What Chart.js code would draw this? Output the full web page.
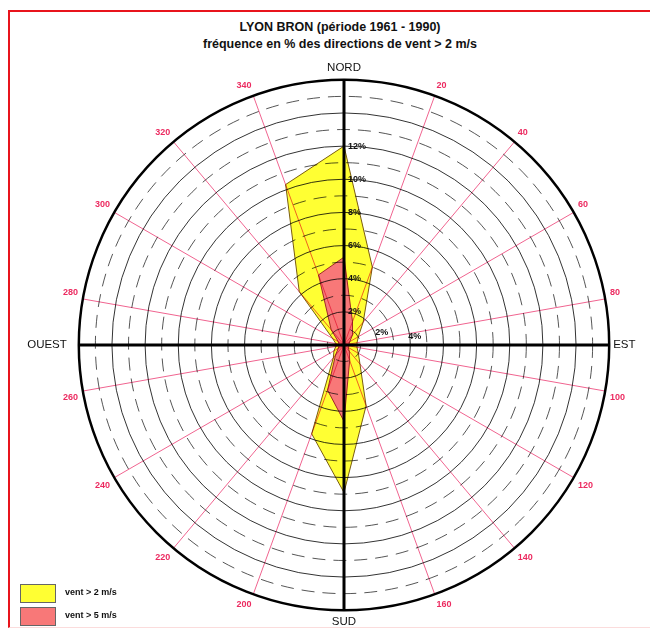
<!DOCTYPE html>
<html>
<head>
<meta charset="utf-8">
<script src="https://cdn.jsdelivr.net/npm/chart.js@4/dist/chart.umd.min.js"></script>
<style>
body{margin:0;background:#fff;width:650px;height:630px;position:relative;overflow:hidden;font-family:"Liberation Sans",Arial,sans-serif;}
#frame{position:absolute;left:8px;top:10px;width:660px;height:615px;border-left:2px solid #e8141c;border-top:2px solid #e8141c;border-bottom:1px solid #fbdcdc;}
#title{position:absolute;left:8px;width:664px;top:19px;text-align:center;font-weight:bold;font-size:12.5px;line-height:17px;color:#111;}
#chart{position:absolute;left:0;top:0;}
.leg{position:absolute;left:20px;width:34px;height:17px;border:1px solid #666;}
.legtxt{position:absolute;left:65px;font-weight:bold;font-size:9px;color:#111;}
</style>
</head>
<body>
<div id="frame"></div>
<div id="title">LYON BRON (période 1961 - 1990)<br>fréquence en % des directions de vent &gt; 2 m/s</div>
<canvas id="chart" width="650" height="630"></canvas>
<div class="leg" style="top:584px;background:#ffff33;"></div>
<div class="legtxt" style="top:587px;">vent &gt; 2 m/s</div>
<div class="leg" style="top:607px;background:#f87878;"></div>
<div class="legtxt" style="top:610px;">vent &gt; 5 m/s</div>
<script>
'use strict';
// ---------- Data ------------- //
let directions = [0, 20, 40, 60, 80, 100, 120, 140, 160, 180, 200, 220, 240, 260, 280, 300, 320, 340];
let vent2 = [12.0, 5.0, 1.8, 1.0, 0.8, 0.8, 1.0, 1.5, 3.9, 8.9, 5.7, 1.0, 0.7, 0.5, 0.5, 0.8, 4.2, 10.3];
let vent5 = [5.3, 1.5, 0.8, 0.4, 0.3, 0.3, 0.3, 0.5, 1.0, 4.6, 2.9, 0.8, 0.4, 0.3, 0.3, 0.4, 1.2, 4.5];
let northTicks = [2, 4, 6, 8, 10, 12];
let eastTicks = [2, 4];
let cardinals = {0: 'NORD', 90: 'EST', 180: 'SUD', 270: 'OUEST'};

let labels = directions.map(d => cardinals[d] || String(d));

// ---------- Plugin: multiply grid over polygons, then axes + texts ------------- //
let roseExtras = {
    id: 'roseExtras',
    afterDatasetsDraw(chart){
        chart.ctx.save();
        chart.ctx.globalCompositeOperation = 'multiply';
    },
    afterDraw(chart){
        let ctx = chart.ctx;
        ctx.restore();
        let s = chart.scales.r;
        let cx = s.xCenter, cy = s.yCenter, R = s.drawingArea;
        ctx.save();
        ctx.strokeStyle = '#000';
        ctx.lineWidth = 3;
        ctx.beginPath();
        ctx.moveTo(cx, cy - R); ctx.lineTo(cx, cy + R);
        ctx.moveTo(cx - R, cy); ctx.lineTo(cx + R, cy);
        ctx.stroke();

        ctx.fillStyle = '#111';
        ctx.font = '11.5px "Liberation Sans", Arial, sans-serif';
        ctx.textBaseline = 'middle';
        ctx.textAlign = 'left';
        ctx.fillText(cardinals[90], cx + R + 4, cy);
        ctx.textAlign = 'right';
        ctx.fillText(cardinals[270], cx - R - 12, cy);

        ctx.font = 'bold 9px "Liberation Sans", Arial, sans-serif';
        ctx.textAlign = 'left';
        for (let v of northTicks){
            ctx.fillText(v + '%', cx + 4, cy - s.getDistanceFromCenterForValue(v));
        }
        let dy = [-12, -8];
        eastTicks.forEach((v, i) => {
            ctx.fillText(v + '%', cx + s.getDistanceFromCenterForValue(v) - 2, cy + dy[i]);
        });
        ctx.restore();
    }
};

let chartObject = {
    type: 'radar',
    data: {
        labels: labels,
        datasets: [{
            label: 'vent > 2 m/s',
            data: vent2,
            backgroundColor: '#ffff33',
            borderColor: '#7a5c10',
            borderWidth: 1,
            pointRadius: 0,
            order: 2
        },
        {
            label: 'vent > 5 m/s',
            data: vent5,
            backgroundColor: '#f87878',
            borderColor: '#a02828',
            borderWidth: 1,
            pointRadius: 0,
            order: 1
        }]
    },
    options: {
        responsive: false,
        animation: false,
        layout: {padding: {left: 60, right: 20, top: 61, bottom: 0}},
        plugins: {legend: {display: false}, tooltip: {enabled: false}},
        elements: {line: {tension: 0}},
        scales: {
            r: {
                min: 0,
                max: 16,
                ticks: {stepSize: 1, display: false},
                grid: {
                    z: 1,
                    circular: true,
                    color: c => c.tick && c.tick.value === 16 ? '#000' : (c.tick && c.tick.value % 2 ? '#555' : '#333'),
                    lineWidth: c => c.tick && c.tick.value === 16 ? 2.5 : 1
                },
                border: {
                    dash: c => c.tick && c.tick.value % 2 ? [13, 8] : []
                },
                angleLines: {color: '#f0638f', lineWidth: 1},
                pointLabels: {
                    padding: 5,
                    color: c => c.index % 9 === 0 ? '#111' : '#ec2a60',
                    font: c => c.index % 9 === 0
                        ? {family: '"Liberation Sans", Arial, sans-serif', size: 11.5}
                        : {family: '"Liberation Sans", Arial, sans-serif', size: 9, weight: 'bold'}
                }
            }
        }
    },
    plugins: [roseExtras]
};

let ctx = document.getElementById('chart').getContext('2d');
let myChart = new Chart(ctx, chartObject);
</script>
</body>
</html>
